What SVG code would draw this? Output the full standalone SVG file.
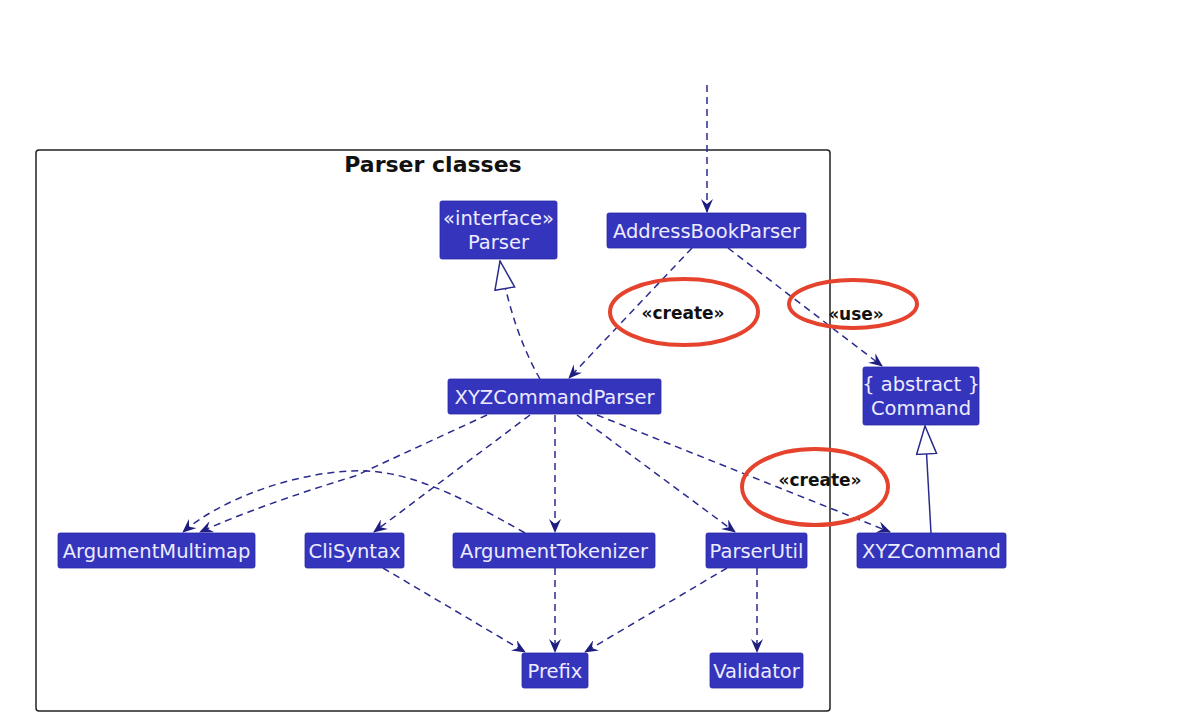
<svg xmlns="http://www.w3.org/2000/svg" width="1186" height="726" viewBox="0 0 1186 726">
<style>
.node rect{fill:#3434BC;stroke:#2A2AA8;stroke-width:0.8}
.node text{font-family:"DejaVu Sans",sans-serif;font-size:19.5px;fill:#EDEBFF;text-anchor:middle}
.dep{fill:none;stroke:#2B2B8F;stroke-width:1.5;stroke-dasharray:7,5}
.solid{fill:none;stroke:#2B2B8F;stroke-width:1.5}
.lbl{font-family:"DejaVu Sans",sans-serif;font-size:17px;font-weight:bold;fill:#111;text-anchor:middle}
.ring{fill:none;stroke:#E5432D;stroke-width:4}
</style>
<defs>
<marker id="arr" viewBox="0 0 14 12" refX="13" refY="6" markerWidth="14" markerHeight="12" markerUnits="userSpaceOnUse" orient="auto">
<path d="M0,0 L14,6 L0,12 L5,6 z" fill="#1E1E80"/>
</marker>
<marker id="tri" viewBox="0 0 30 22" refX="29" refY="11" markerWidth="30" markerHeight="22" markerUnits="userSpaceOnUse" orient="auto">
<path d="M1,1 L29,11 L1,21 z" fill="#fff" stroke="#2B2B8F" stroke-width="1.5"/>
</marker>
</defs>
<rect width="1186" height="726" fill="#fff"/>
<g id="package">
<rect x="36" y="150" width="794" height="561" rx="3" fill="none" stroke="#222" stroke-width="1.5"/>
<text x="433" y="172" font-family="DejaVu Sans,sans-serif" font-size="22" font-weight="bold" fill="#111" text-anchor="middle">Parser classes</text>
</g>
<g id="connectors">
<path class="dep" d="M707,85 L707,212" marker-end="url(#arr)"/>
<path class="dep" d="M692,248 L569,378" marker-end="url(#arr)"/>
<path class="dep" d="M728,248 L882,366" marker-end="url(#arr)"/>
<path class="dep" d="M540,379 Q512,330 500,261" marker-end="url(#tri)"/>
<path class="dep" d="M487,415 L355,476 Q260,505 200,532" marker-end="url(#arr)"/>
<path class="dep" d="M525,533 C450,490 400,468 350,471 C290,474 220,500 183,532" marker-end="url(#arr)"/>
<path class="dep" d="M530,415 L374,532" marker-end="url(#arr)"/>
<path class="dep" d="M555,415 L555,532" marker-end="url(#arr)"/>
<path class="dep" d="M577,415 L735,532" marker-end="url(#arr)"/>
<path class="dep" d="M597,415 L890,532" marker-end="url(#arr)"/>
<path class="solid" d="M931,533 L925,426" marker-end="url(#tri)"/>
<path class="dep" d="M383,568 L525,652" marker-end="url(#arr)"/>
<path class="dep" d="M555,568 L555,652" marker-end="url(#arr)"/>
<path class="dep" d="M727,568 L585,652" marker-end="url(#arr)"/>
<path class="dep" d="M757,568 L757,652" marker-end="url(#arr)"/>
<text class="lbl" x="683" y="319">«create»</text>
<text class="lbl" x="856" y="320">«use»</text>
<text class="lbl" x="820" y="486">«create»</text>
<ellipse class="ring" cx="684" cy="312" rx="74" ry="33"/>
<ellipse class="ring" cx="853" cy="304" rx="64" ry="24"/>
<ellipse class="ring" cx="815" cy="487" rx="73" ry="38"/>
</g>
<g id="Parser" class="node"><rect x="440" y="201" width="117" height="58" rx="2"/><text x="498.5" y="225">«interface»</text><text x="498.5" y="249">Parser</text></g>
<g id="AddressBookParser" class="node"><rect x="607" y="213" width="199" height="35" rx="2"/><text x="706.5" y="237.5">AddressBookParser</text></g>
<g id="XYZCommandParser" class="node"><rect x="448" y="379" width="213" height="35" rx="2"/><text x="554.5" y="403.5">XYZCommandParser</text></g>
<g id="Command" class="node"><rect x="863" y="367" width="116" height="58" rx="2"/><text x="921" y="391">{ abstract }</text><text x="921" y="415">Command</text></g>
<g id="ArgumentMultimap" class="node"><rect x="58" y="533" width="197" height="35" rx="2"/><text x="156.5" y="557.5">ArgumentMultimap</text></g>
<g id="CliSyntax" class="node"><rect x="305" y="533" width="99" height="35" rx="2"/><text x="354.5" y="557.5">CliSyntax</text></g>
<g id="ArgumentTokenizer" class="node"><rect x="453" y="533" width="202" height="35" rx="2"/><text x="554" y="557.5">ArgumentTokenizer</text></g>
<g id="ParserUtil" class="node"><rect x="706" y="533" width="101" height="35" rx="2"/><text x="756.5" y="557.5">ParserUtil</text></g>
<g id="XYZCommand" class="node"><rect x="857" y="533" width="149" height="35" rx="2"/><text x="931.5" y="557.5">XYZCommand</text></g>
<g id="Prefix" class="node"><rect x="522" y="653" width="66" height="35" rx="2"/><text x="555" y="677.5">Prefix</text></g>
<g id="Validator" class="node"><rect x="710" y="653" width="93" height="35" rx="2"/><text x="756.5" y="677.5">Validator</text></g>
</svg>
